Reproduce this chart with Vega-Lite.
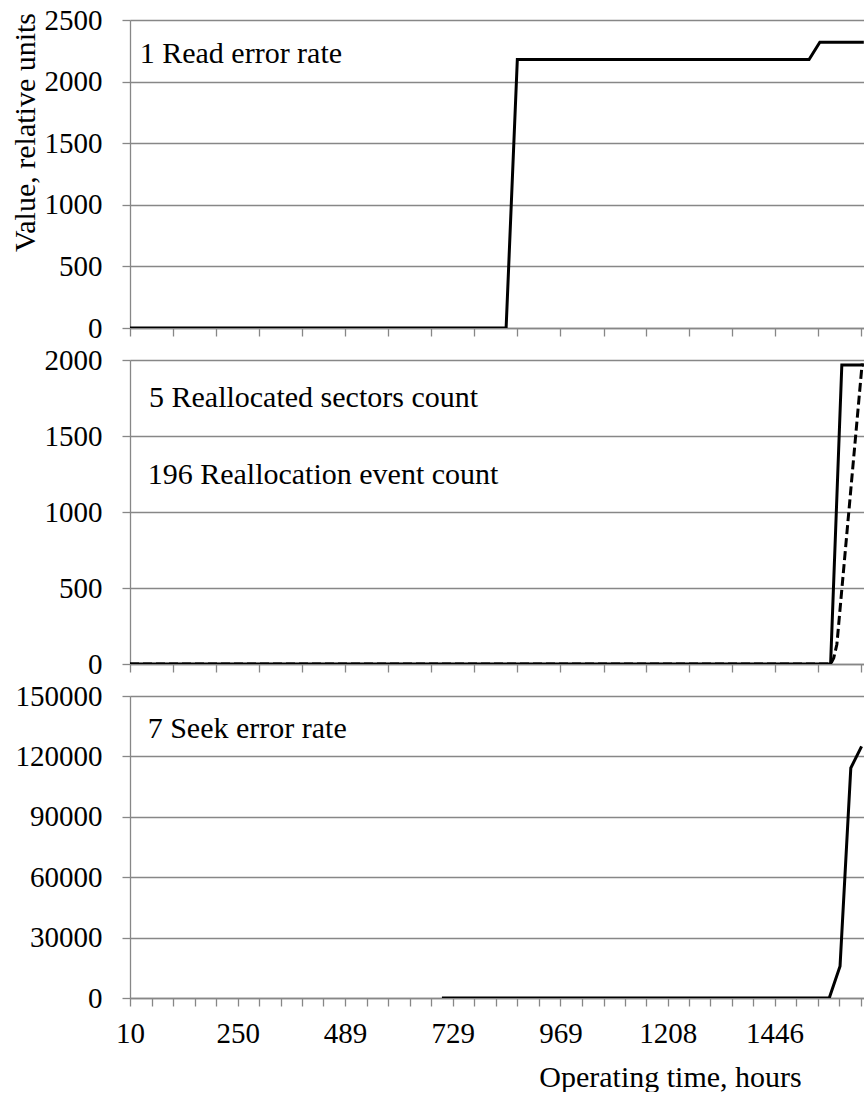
{
  "$schema": "https://vega.github.io/schema/vega-lite/v6.json",
  "padding": {"left": 10, "top": 6, "right": 0, "bottom": 0},
  "background": "white",
  "config": {
    "view": {"stroke": null},
    "font": "Liberation Serif, Times New Roman, DejaVu Serif, serif",
    "axis": {"labelFont": "Liberation Serif, Times New Roman, DejaVu Serif, serif", "titleFont": "Liberation Serif, Times New Roman, DejaVu Serif, serif", "titleFontWeight": "normal", "titleColor": "black", "labelColor": "black"},
    "text": {"font": "Liberation Serif, Times New Roman, DejaVu Serif, serif", "fontSize": 30, "color": "black"}
  },
  "datasets": {
    "read": [
      {"hours": 10, "value": 0},
      {"hours": 848, "value": 0},
      {"hours": 873, "value": 2180},
      {"hours": 1523, "value": 2180},
      {"hours": 1547, "value": 2320},
      {"hours": 1645, "value": 2320}
    ],
    "realloc": [
      {"series": "5 Reallocated sectors count", "hours": 10, "value": 0},
      {"series": "5 Reallocated sectors count", "hours": 1571, "value": 0},
      {"series": "5 Reallocated sectors count", "hours": 1596, "value": 1967},
      {"series": "5 Reallocated sectors count", "hours": 1645, "value": 1967},
      {"series": "196 Reallocation event count", "hours": 10, "value": 0},
      {"series": "196 Reallocation event count", "hours": 1571, "value": 0},
      {"series": "196 Reallocation event count", "hours": 1578, "value": 40},
      {"series": "196 Reallocation event count", "hours": 1585, "value": 130},
      {"series": "196 Reallocation event count", "hours": 1641, "value": 1967},
      {"series": "196 Reallocation event count", "hours": 1645, "value": 1967}
    ],
    "seek": [
      {"hours": 705, "value": 0},
      {"hours": 1568, "value": 0},
      {"hours": 1592, "value": 15745},
      {"hours": 1616, "value": 114240},
      {"hours": 1640, "value": 125000}
    ]
  },
  "bounds": "flush",
  "spacing": 32,
  "vconcat": [
    {
      "width": 734,
      "height": 308,
      "layer": [
        {
          "data": {"name": "read"},
          "mark": {"type": "line", "color": "black", "strokeWidth": 3, "clip": true},
          "encoding": {
            "x": {"field": "hours", "type": "quantitative",
              "scale": {"domain": [10, 1645.4], "nice": false, "zero": false},
              "axis": {"values": [10,58,106,154,202,250,298,346,394,441,489,537,585,633,681,729,777,825,873,921,969,1017,1065,1112,1160,1208,1256,1303,1351,1398,1446,1494,1542,1590,1638],
                "title": null, "grid": false, "labels": false, "domainColor": "#878787", "domainWidth": 1.3, "tickColor": "#878787", "tickWidth": 1.3, "tickSize": 8}},
            "y": {"field": "value", "type": "quantitative",
              "scale": {"domain": [0, 2500], "nice": false},
              "axis": {"values": [0,500,1000,1500,2000,2500], "format": "d", "grid": true, "gridColor": "#878787", "gridWidth": 1.3, "domainColor": "#878787", "domainWidth": 1.3, "tickColor": "#878787", "tickWidth": 1.3, "tickSize": 8, "labelFontSize": 29, "labelPadding": 20,
                "title": "Value, relative units", "titleFontSize": 30, "titleAngle": 270, "titleX": -105, "titleY": 112, "titleAlign": "center", "titleBaseline": "middle"}}
          }
        },
        {
          "data": {"values": [{"label": "1 Read error rate"}]},
          "mark": {"type": "text", "align": "left", "baseline": "alphabetic"},
          "encoding": {"text": {"field": "label"}, "x": {"datum": 31.6}, "y": {"datum": 2154}}
        }
      ]
    },
    {
      "width": 734,
      "height": 304,
      "layer": [
        {
          "data": {"name": "realloc"},
          "mark": {"type": "line", "color": "black", "strokeWidth": 3, "clip": true},
          "encoding": {
            "x": {"field": "hours", "type": "quantitative",
              "scale": {"domain": [10, 1645.4], "nice": false, "zero": false},
              "axis": {"values": [10,58,106,154,202,250,298,346,394,441,489,537,585,633,681,729,777,825,873,921,969,1017,1065,1112,1160,1208,1256,1303,1351,1398,1446,1494,1542,1590,1638],
                "title": null, "grid": false, "labels": false, "domainColor": "#878787", "domainWidth": 1.3, "tickColor": "#878787", "tickWidth": 1.3, "tickSize": 8}},
            "y": {"field": "value", "type": "quantitative",
              "scale": {"domain": [0, 2000], "nice": false},
              "axis": {"values": [0,500,1000,1500,2000], "format": "d", "grid": true, "gridColor": "#878787", "gridWidth": 1.3, "domainColor": "#878787", "domainWidth": 1.3, "tickColor": "#878787", "tickWidth": 1.3, "tickSize": 8, "labelFontSize": 29, "labelPadding": 20, "title": null}},
            "detail": {"field": "series"},
            "strokeDash": {"field": "series", "type": "nominal",
              "scale": {"domain": ["5 Reallocated sectors count", "196 Reallocation event count"], "range": [[1, 0], [9, 4]]},
              "legend": null}
          }
        },
        {
          "data": {"values": [{"label": "5 Reallocated sectors count"}]},
          "mark": {"type": "text", "align": "left", "baseline": "alphabetic"},
          "encoding": {"text": {"field": "label"}, "x": {"datum": 52.3}, "y": {"datum": 1690}}
        },
        {
          "data": {"values": [{"label": "196 Reallocation event count"}]},
          "mark": {"type": "text", "align": "left", "baseline": "alphabetic"},
          "encoding": {"text": {"field": "label"}, "x": {"datum": 49.4}, "y": {"datum": 1185}}
        }
      ]
    },
    {
      "width": 734,
      "height": 302,
      "resolve": {"axis": {"x": "independent"}},
      "layer": [
        {
          "data": {"name": "seek"},
          "mark": {"type": "line", "color": "black", "strokeWidth": 3, "clip": true},
          "encoding": {
            "x": {"field": "hours", "type": "quantitative",
              "scale": {"domain": [10, 1645.4], "nice": false, "zero": false},
              "axis": {"orient": "bottom", "values": [10,58,106,154,202,250,298,346,394,441,489,537,585,633,681,729,777,825,873,921,969,1017,1065,1112,1160,1208,1256,1303,1351,1398,1446,1494,1542,1590,1638],
                "title": null, "grid": false, "labels": false, "domainColor": "#878787", "domainWidth": 1.3, "tickColor": "#878787", "tickWidth": 1.3, "tickSize": 8}},
            "y": {"field": "value", "type": "quantitative",
              "scale": {"domain": [0, 150000], "nice": false},
              "axis": {"values": [0,30000,60000,90000,120000,150000], "format": "d", "grid": true, "gridColor": "#878787", "gridWidth": 1.3, "domainColor": "#878787", "domainWidth": 1.3, "tickColor": "#878787", "tickWidth": 1.3, "tickSize": 8, "labelFontSize": 29, "labelPadding": 20, "title": null}}
          }
        },
        {
          "data": {"values": [{"label": "7 Seek error rate"}]},
          "mark": {"type": "text", "align": "left", "baseline": "alphabetic"},
          "encoding": {"text": {"field": "label"},
            "x": {"datum": 49.4, "type": "quantitative",
              "axis": {"orient": "bottom", "values": [10,250,489,729,969,1208,1446], "format": "d", "labelOverlap": false, "labelFlush": false, "labelFontSize": 29, "labelBaseline": "alphabetic", "labelPadding": 44, "ticks": false, "domain": false, "grid": false,
                "title": "Operating time, hours", "titleFontSize": 30, "titleX": 540, "titleY": 88, "titleAlign": "center", "titleBaseline": "alphabetic"}},
            "y": {"datum": 129138}}
        }
      ]
    }
  ]
}
